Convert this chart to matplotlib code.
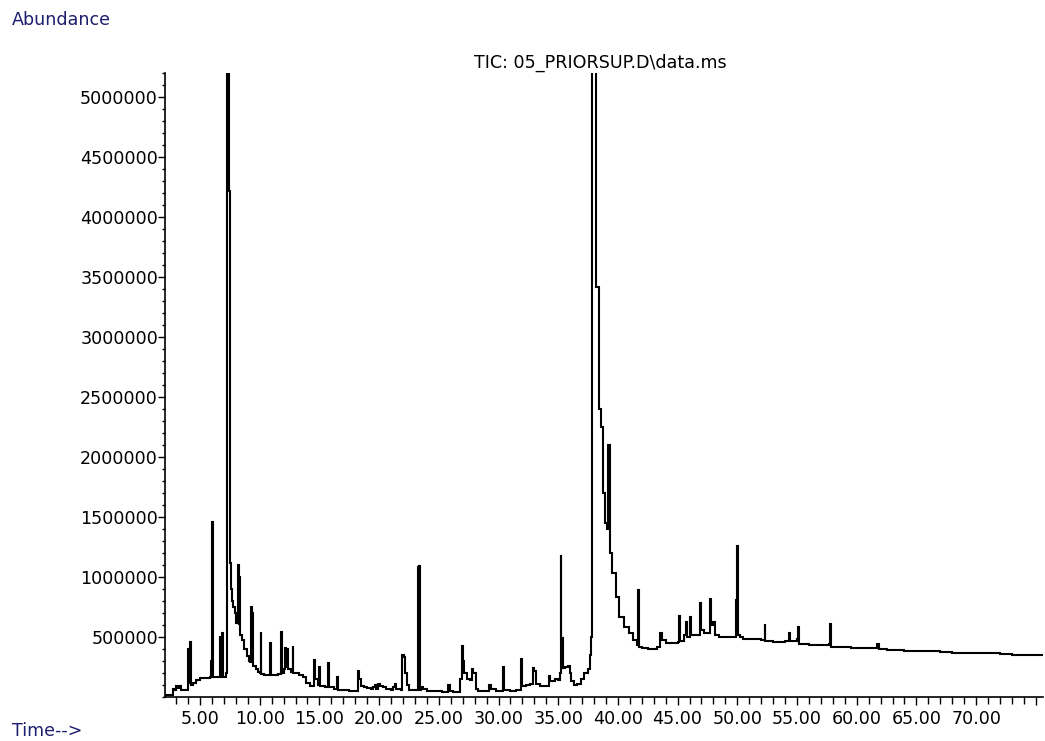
import matplotlib
matplotlib.use("Agg")
import matplotlib.pyplot as plt
from matplotlib.ticker import MultipleLocator, FixedLocator, FixedFormatter

# Retention time (min) and abundance
time_min = [
    2.07, 2.6, 2.75, 2.85, 2.95, 3.1, 3.25, 3.4, 3.6, 3.95,
    4.02, 4.08, 4.15, 4.22, 4.4, 4.7, 5.0, 5.5, 5.8, 5.9,
    5.98, 6.05, 6.5, 6.65, 6.72, 6.85, 6.92, 7.15, 7.2, 7.27,
    7.35, 7.45, 7.52, 7.55, 7.62, 7.7, 7.8, 7.9, 8.0, 8.1,
    8.18, 8.25, 8.3, 8.37, 8.5, 8.7, 8.9, 9.1, 9.2, 9.27,
    9.32, 9.37, 9.45, 9.7, 9.9, 10.05, 10.1, 10.15, 10.4, 10.8,
    10.86, 10.92, 11.2, 11.5, 11.75, 11.78, 11.83, 12.05, 12.1, 12.2,
    12.27, 12.35, 12.6, 12.76, 12.82, 13.0, 13.3, 13.6, 13.9, 14.2,
    14.45, 14.55, 14.65, 14.85, 15.0, 15.05, 15.5, 15.75, 15.82, 16.2,
    16.5, 16.55, 17.0, 17.5, 18.1, 18.2, 18.26, 18.35, 18.45, 18.7,
    19.0, 19.3, 19.5, 19.66, 19.75, 19.95, 20.1, 20.3, 20.6, 21.0,
    21.2, 21.33, 21.45, 21.8, 21.9, 21.95, 22.05, 22.15, 22.3, 22.5,
    22.9, 23.2, 23.25, 23.33, 23.4, 23.5, 23.7, 24.0, 24.5, 25.0,
    25.3, 25.8, 25.9, 26.2, 26.5, 26.8, 26.97, 27.05, 27.15, 27.4,
    27.6, 27.8, 27.9, 28.1, 28.3, 29.0, 29.2, 29.35, 29.8, 30.3,
    30.35, 30.5, 31.0, 31.5, 31.8, 31.88, 31.95, 32.3, 32.6, 32.9,
    33.0, 33.1, 33.5, 34.0, 34.23, 34.35, 34.7, 35.0, 35.15, 35.2,
    35.25, 35.4, 35.6, 35.85, 35.95, 36.1, 36.3, 36.6, 36.9, 37.2,
    37.5, 37.66, 37.75, 37.8, 38.1, 38.16, 38.35, 38.45, 38.6, 38.75,
    38.95, 39.1, 39.2, 39.3, 39.5, 39.8, 40.1, 40.5, 40.9, 41.3,
    41.6, 41.65, 41.75, 42.0, 42.5, 43.0, 43.3, 43.5, 43.7, 44.0,
    44.5, 45.0, 45.12, 45.2, 45.5, 45.7, 45.8, 46.04, 46.1, 46.5,
    46.88, 46.95, 47.2, 47.72, 47.8, 48.0, 48.1, 48.5, 49.0, 49.5,
    49.8, 49.92, 49.97, 50.05, 50.2, 50.5, 51.0, 51.5, 52.0, 52.3,
    52.35, 53.0, 53.5, 54.0, 54.35, 54.45, 55.0, 55.1, 55.2, 56.0,
    57.0, 57.7, 57.77, 57.85, 58.5, 59.5, 60.0, 60.5, 61.0, 61.5,
    61.7, 61.85, 62.5, 63.0, 64.0, 65.0, 66.0, 67.0, 68.0, 69.0,
    70.0, 71.0, 72.0, 73.0, 74.0, 75.77,
]
abundance = [
    18000, 18000, 70000, 60000, 95000, 75000, 90000, 60000, 55000, 60000,
    400000, 120000, 460000, 100000, 120000, 140000, 158000, 160000, 165000, 300000,
    1460000, 170000, 165000, 500000, 170000, 530000, 170000, 170000, 200000, 6000000,
    6000000, 4220000, 4220000, 1120000, 900000, 800000, 750000, 700000, 620000, 650000,
    1100000, 600000, 1000000, 520000, 475000, 400000, 340000, 300000, 290000, 750000,
    280000, 700000, 260000, 230000, 210000, 200000, 545000, 195000, 185000, 180000,
    453000, 180000, 185000, 190000, 195000, 545000, 200000, 230000, 408000, 250000,
    400000, 230000, 210000, 425000, 200000, 200000, 180000, 170000, 120000, 95000,
    90000, 308000, 150000, 100000, 250000, 90000, 80000, 286000, 80000, 65000,
    170000, 60000, 55000, 50000, 50000, 150000, 219000, 150000, 90000, 80000,
    75000, 70000, 80000, 100000, 70000, 110000, 90000, 80000, 65000, 60000,
    80000, 110000, 65000, 60000, 300000, 350000, 330000, 200000, 100000, 60000,
    58000, 60000, 1080000, 1090000, 60000, 80000, 65000, 50000, 48000, 48000,
    45000, 100000, 50000, 44000, 44000, 150000, 428000, 300000, 200000, 150000,
    140000, 230000, 200000, 70000, 52000, 52000, 100000, 70000, 50000, 52000,
    247000, 55000, 52000, 55000, 60000, 317000, 90000, 100000, 110000, 238000,
    220000, 110000, 90000, 90000, 178000, 130000, 150000, 140000, 200000, 1180000,
    490000, 240000, 250000, 260000, 200000, 130000, 100000, 110000, 150000, 200000,
    230000, 350000, 500000, 6000000, 6000000, 3420000, 3420000, 2400000, 2250000, 1700000,
    1450000, 1400000, 2100000, 1200000, 1030000, 836000, 669000, 586000, 533000, 475000,
    433000, 892000, 420000, 411000, 400000, 400000, 420000, 533000, 475000, 453000,
    450000, 460000, 678000, 470000, 520000, 628000, 500000, 670000, 520000, 520000,
    781000, 560000, 530000, 814000, 600000, 628000, 520000, 500000, 500000, 497000,
    500000, 808000, 1260000, 520000, 500000, 485000, 481000, 481000, 475000, 608000,
    470000, 461000, 461000, 470000, 533000, 470000, 480000, 586000, 440000, 433000,
    433000, 440000, 608000, 420000, 414000, 410000, 410000, 405000, 405000, 410000,
    445000, 400000, 392000, 390000, 386000, 386000, 386000, 375000, 370000, 370000,
    368000, 365000, 355000, 352000, 350000, 350000,
]

x_major = [5, 10, 15, 20, 25, 30, 35, 40, 45, 50, 55, 60, 65, 70, 75]
x_labels = ["5.00", "10.00", "15.00", "20.00", "25.00", "30.00", "35.00",
            "40.00", "45.00", "50.00", "55.00", "60.00", "65.00", "70.00", ""]
y_major = [500000, 1000000, 1500000, 2000000, 2500000,
           3000000, 3500000, 4000000, 4500000, 5000000]
y_labels = [str(v) for v in y_major]

title_text = "TIC: 05_PRIORSUP.D\\data.ms"

plt.rcParams['font.family'] = ['DejaVu Sans']
fig = plt.figure(figsize=(10.45, 7.41), dpi=100)
ax = fig.add_axes([165/1045, 1 - 697/741, (1043-165)/1045, (697-73)/741])

ax.plot(time_min, abundance, color='black', lw=1.5, drawstyle='steps-post',
        solid_joinstyle='miter')
ax.set_xlim(2.07, 75.6)
ax.set_ylim(0, 5200000)

for s in ['top', 'right']:
    ax.spines[s].set_visible(False)
for s in ['left', 'bottom']:
    ax.spines[s].set_linewidth(1.2)
    ax.spines[s].set_color('black')

ax.xaxis.set_major_locator(FixedLocator(x_major))
ax.xaxis.set_major_formatter(FixedFormatter(x_labels))
ax.xaxis.set_minor_locator(MultipleLocator(1))
ax.yaxis.set_major_locator(FixedLocator(y_major))
ax.yaxis.set_major_formatter(FixedFormatter(y_labels))
ax.yaxis.set_minor_locator(MultipleLocator(100000))

ax.tick_params(axis='x', which='major', length=6, width=1, pad=3, labelsize=12.6, colors='black')
ax.tick_params(axis='x', which='minor', length=5, width=1)
ax.tick_params(axis='y', which='major', length=5, width=1, pad=0, labelsize=12.6, colors='black')
ax.tick_params(axis='y', which='minor', length=2.5, width=1)

fig.text(12/1045, 1 - 20/741, "Abundance", color='#1e1e6e', fontsize=12.6, va='center', ha='left')
fig.text(12/1045, 1 - 731/741, "Time-->", color='#1e1e6e', fontsize=12.6, va='center', ha='left')
fig.text(600/1045, 1 - 63/741, title_text, color='black', fontsize=12.6, va='center', ha='center')

fig.savefig("out.png", dpi=100)
